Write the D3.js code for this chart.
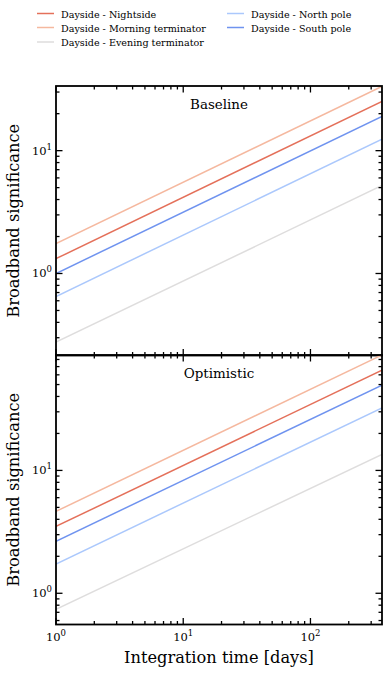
<!DOCTYPE html>
<html>
<head>
<meta charset="utf-8">
<script src="https://cdn.jsdelivr.net/npm/d3@7"></script>
<style>
  body { margin: 0; background: #fff; }
  svg { display: block; font-family: "DejaVu Serif", serif; }
</style>
</head>
<body>
<svg id="chart" width="389" height="674"></svg>
<script>
// integration time endpoints (days)
const days = [1, 365];

// series names + colours
const seriesNames = ["Dayside - Nightside", "Dayside - Morning terminator", "Dayside - Evening terminator",
                     "Dayside - North pole", "Dayside - South pole"];
const seriesColors = ["#e4705a", "#f5b89f", "#dedddd", "#abc8fc", "#6f93ef"];

// significance at day 1 and day 365
const baselineNight = [1.32, 25.2];
const baselineMorning = [1.75, 33.4];
const baselineEvening = [0.276, 5.2];
const baselineNorth = [0.65, 12.4];
const baselineSouth = [1.0, 19.0];

const optimisticNight = [3.5, 65.5];
const optimisticMorning = [4.64, 87];
const optimisticEvening = [0.74, 13.5];
const optimisticNorth = [1.73, 32.3];
const optimisticSouth = [2.65, 49.5];

const panels = [
  {title: "Baseline", ylim: [0.215, 33.6],
   series: [baselineNight, baselineMorning, baselineEvening, baselineNorth, baselineSouth]},
  {title: "Optimistic", ylim: [0.557, 87],
   series: [optimisticNight, optimisticMorning, optimisticEvening, optimisticNorth, optimisticSouth]}
];

const svg = d3.select("#chart");
const left = 56, right = 382;
const panelTop = [86, 355], panelH = 269.5;

const x = d3.scaleLog().domain([1, 365]).range([left, right]);

// font size so that a string gets a given width
function fitSize(str, width) {
  let t = svg.append("text").attr("font-size", 10).text(str);
  let w = t.node().getComputedTextLength();
  t.remove();
  return 10 * width / w;
}
const legSize = fitSize("Dayside - Morning terminator", 145);
const labSize = fitSize("Integration time [days]", 190);
const titleSize = fitSize("Baseline", 58);

// tick values for log axes
function logTicks(lo, hi) {
  let major = [], minor = [];
  for (let e = -2; e <= 3; e++) {
    for (let m = 1; m < 10; m++) {
      let v = m * Math.pow(10, e);
      if (v < lo * 0.9999 || v > hi * 1.0001) continue;
      if (m == 1) major.push(v); else minor.push(v);
    }
  }
  return {major: major, minor: minor};
}

function sup(sel, e) {
  sel.append("tspan").text("10");
  sel.append("tspan").attr("dy", -5).attr("font-size", 8.5).text(e);
}

const xt = logTicks(1, 365);

panels.forEach(function(p, i) {
  let top = panelTop[i], bottom = top + panelH;
  let y = d3.scaleLog().domain(p.ylim).range([bottom, top]);
  let g = svg.append("g");

  g.append("defs").append("clipPath").attr("id", "clip" + i)
    .append("rect").attr("x", left).attr("y", top).attr("width", right - left).attr("height", bottom - top);

  // lines
  let line = d3.line().x(function(d) { return x(d[0]); }).y(function(d) { return y(d[1]); });
  g.append("g").attr("clip-path", "url(#clip" + i + ")")
    .selectAll("path")
    .data(p.series)
    .enter()
    .append("path")
    .attr("d", function(d) { return line(days.map(function(t, k) { return [t, d[k]]; })); })
    .attr("fill", "none")
    .attr("stroke", function(d, k) { return seriesColors[k]; })
    .attr("stroke-width", 1.5);

  let yt = logTicks(p.ylim[0], p.ylim[1]);
  let tk = g.append("g").attr("stroke", "#000").attr("stroke-width", 1.3);

  // x ticks bottom + top (inward)
  xt.major.concat(xt.minor).forEach(function(v) {
    let len = xt.major.indexOf(v) >= 0 ? 6.5 : 3.5;
    tk.append("line").attr("x1", x(v)).attr("x2", x(v)).attr("y1", bottom).attr("y2", bottom - len);
    tk.append("line").attr("x1", x(v)).attr("x2", x(v)).attr("y1", top).attr("y2", top + len);
  });
  // y ticks left + right
  yt.major.concat(yt.minor).forEach(function(v) {
    let len = yt.major.indexOf(v) >= 0 ? 6.5 : 3.5;
    tk.append("line").attr("y1", y(v)).attr("y2", y(v)).attr("x1", left).attr("x2", left + len);
    tk.append("line").attr("y1", y(v)).attr("y2", y(v)).attr("x1", right).attr("x2", right - len);
  });

  // y tick labels
  yt.major.forEach(function(v) {
    let t = g.append("text").attr("x", left - 4).attr("y", y(v) + 4)
      .attr("text-anchor", "end").attr("font-size", 11.5);
    sup(t, Math.round(Math.log10(v)));
  });

  // frame
  g.append("rect").attr("x", left).attr("y", top).attr("width", right - left).attr("height", bottom - top)
    .attr("fill", "none").attr("stroke", "#000").attr("stroke-width", 1.8);

  g.append("text").attr("x", (left + right) / 2).attr("y", top + 23)
    .attr("text-anchor", "middle").attr("font-size", titleSize).text(p.title);

  g.append("text")
    .attr("transform", "translate(19," + ((top + bottom) / 2) + ") rotate(-90)")
    .attr("text-anchor", "middle").attr("font-size", labSize).text("Broadband significance");
});

// x tick labels under bottom panel
let xb = panelTop[1] + panelH;
xt.major.forEach(function(v) {
  let t = svg.append("text").attr("x", x(v)).attr("y", xb + 16)
    .attr("text-anchor", "middle").attr("font-size", 11.5);
  sup(t, Math.round(Math.log10(v)));
});
svg.append("text").attr("x", (left + right) / 2).attr("y", xb + 38.5)
  .attr("text-anchor", "middle").attr("font-size", labSize).text("Integration time [days]");

// legend, two columns
const legPos = [[37, 13.5], [37, 27.5], [37, 42], [227, 13.5], [227, 27.5]];
const leg = svg.append("g").selectAll("g").data(seriesNames).enter().append("g")
  .attr("transform", function(d, i) { return "translate(" + legPos[i][0] + "," + legPos[i][1] + ")"; });
leg.append("line").attr("x1", 0).attr("x2", 17).attr("stroke", function(d, i) { return seriesColors[i]; })
  .attr("stroke-width", 1.5);
leg.append("text").attr("x", 24).attr("y", 4).attr("font-size", legSize).text(function(d) { return d; });
</script>
</body>
</html>
